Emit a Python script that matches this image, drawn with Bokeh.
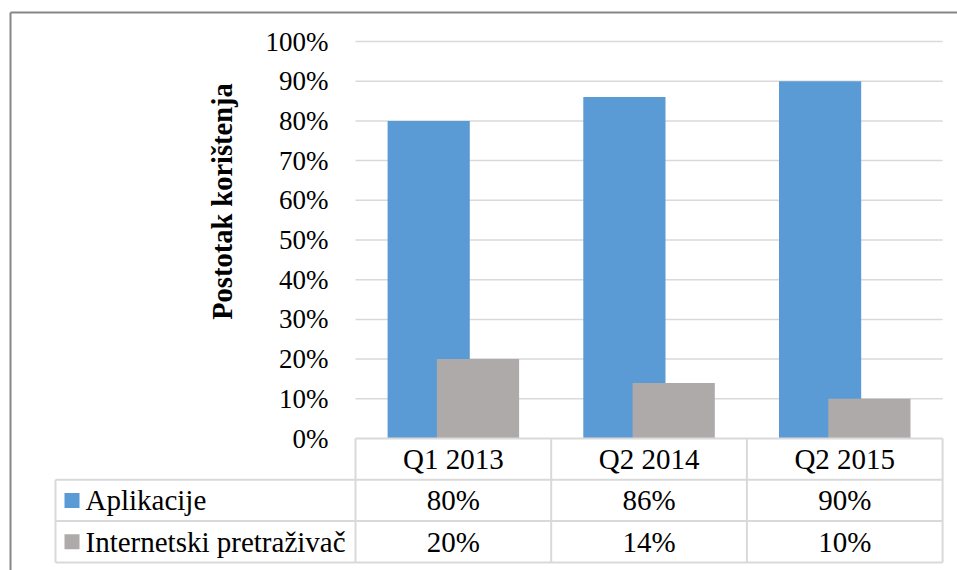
from bokeh.plotting import figure
from bokeh.models import Range1d
from bokeh.core.properties import value
from bokeh.embed import file_html
from bokeh.resources import INLINE

# ---------------- data ----------------
categories = ["Q1 2013", "Q2 2014", "Q2 2015"]
aplikacije = [0.80, 0.86, 0.90]
pretrazivac = [0.20, 0.14, 0.10]
series_names = ["Aplikacije", "Internetski pretraživač"]
series_colors = ["#5b9bd5", "#aeaaaa"]
y_ticks = [0.0, 0.1, 0.2, 0.3, 0.4, 0.5, 0.6, 0.7, 0.8, 0.9, 1.0]
y_tick_labels = ["0%", "10%", "20%", "30%", "40%", "50%", "60%", "70%", "80%", "90%", "100%"]
y_title = "Postotak korištenja"

# ---------------- layout helpers (page pixels -> data) ----------------
W, H = 957, 570
OFF = 0                      # page offset of the canvas
PX0, PXS = 355.0, 195.7      # page x of category 0, px per category
PY0, PYS = 438.0, 397.0      # page y of value 0, px per 1.0

def px2x(px):
    return (px - PX0) / PXS

def py2y(py):
    return (PY0 - py) / PYS

FONT = "Liberation Serif"
n = len(categories)
row_h = 41.3 / PYS
label_left = px2x(55)

p = figure(width=W, height=H, output_backend="svg", toolbar_location=None,
           x_range=Range1d(px2x(OFF), px2x(OFF + W)),
           y_range=Range1d(py2y(OFF + H), py2y(OFF)),
           min_border=0, outline_line_color=None,
           x_axis_type=None, y_axis_type=None)
p.grid.visible = False
p.background_fill_color = "white"
p.border_fill_color = "white"

# gridlines
gl = [t for t in y_ticks if t > 0]
p.segment(x0=[0] * len(gl), x1=[n] * len(gl), y0=gl, y1=gl,
          line_color="#d9d9d9", line_width=1.5)

# bars
xc = [i + 0.5 for i in range(n)]
bw = 0.42
off = 0.126
p.vbar(x=[x - off for x in xc], top=aplikacije, bottom=0, width=bw,
       fill_color=series_colors[0], line_color=None)
p.vbar(x=[x + off for x in xc], top=pretrazivac, bottom=0, width=bw,
       fill_color=series_colors[1], line_color=None)

# y tick labels
p.text(x=[px2x(328)] * len(y_ticks), y=y_ticks, text=y_tick_labels,
       text_font=value(FONT), text_font_size="27px", text_align="right",
       text_baseline="middle", text_color="black")

# y title
p.text(x=[px2x(222)], y=[py2y(201)], text=[y_title], angle=1.5708,
       text_font=value(FONT), text_font_size="28.5px", text_font_style="bold",
       text_align="center", text_baseline="middle", text_color="black")

# ---------------- data table ----------------
tc = "#d9d9d9"
hx0 = [0, label_left, label_left, label_left]
hy = [0, -row_h, -2 * row_h, -3 * row_h]
p.segment(x0=hx0, x1=[n] * 4, y0=hy, y1=hy, line_color=tc, line_width=2)
vx = [label_left] + list(range(n + 1))
vy0 = [-row_h] + [0] * (n + 1)
p.segment(x0=vx, x1=vx, y0=vy0, y1=[-3 * row_h] * (n + 2), line_color=tc, line_width=2)

TFS = "29px"
p.text(x=xc, y=[-0.5 * row_h] * n, text=categories, text_font=value(FONT),
       text_font_size=TFS, text_align="center", text_baseline="middle", text_color="black")
for r, vals in enumerate([aplikacije, pretrazivac]):
    yr = -(r + 1.5) * row_h
    p.text(x=xc, y=[yr] * n, text=[f"{round(v * 100)}%" for v in vals],
           text_font=value(FONT), text_font_size=TFS, text_align="center",
           text_baseline="middle", text_color="black")
ky = [-(r + 1.5) * row_h for r in range(2)]
p.rect(x=[px2x(71.5)] * 2, y=ky, width=15 / PXS, height=15 / PYS,
       fill_color=series_colors, line_color=None)
p.text(x=[px2x(85)] * 2, y=ky, text=series_names, text_font=value(FONT),
       text_font_size=TFS, text_align="left", text_baseline="middle", text_color="black")

# outer chart border (top & left, rest beyond the window)
p.segment(x0=[px2x(10), px2x(10)], x1=[px2x(10), px2x(1000)],
          y0=[py2y(12), py2y(12)], y1=[py2y(1000), py2y(12)],
          line_color="#868686", line_width=2)

open("out.html", "w").write(file_html(p, INLINE))
